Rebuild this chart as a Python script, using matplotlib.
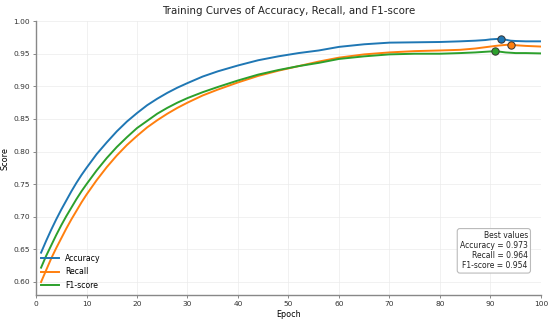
import numpy as np
import matplotlib
matplotlib.use("Agg")
import matplotlib.pyplot as plt

epochs = [1, 2, 3, 4, 5, 6, 7, 8, 9, 10, 12, 14, 16, 18, 20, 22, 24, 26, 28, 30,
          33, 36, 40, 44, 48, 52, 56, 60, 65, 70, 75, 80, 84, 87, 89, 90, 91, 92,
          93, 94, 95, 97, 100]

accuracy = [0.645, 0.663, 0.680, 0.696, 0.711, 0.725, 0.739, 0.752, 0.764, 0.775,
            0.796, 0.814, 0.831, 0.846, 0.859, 0.871, 0.881, 0.890, 0.898, 0.905,
            0.915, 0.923, 0.932, 0.940, 0.946, 0.951, 0.955, 0.9605, 0.9645, 0.967,
            0.9675, 0.968, 0.969, 0.970, 0.971, 0.972, 0.9725, 0.973, 0.9715, 0.970,
            0.9695, 0.969, 0.969]

recall = [0.600, 0.618, 0.636, 0.652, 0.667, 0.682, 0.696, 0.709, 0.722, 0.734,
          0.756, 0.776, 0.794, 0.810, 0.824, 0.837, 0.848, 0.858, 0.867, 0.875,
          0.886, 0.895, 0.906, 0.916, 0.924, 0.931, 0.938, 0.944, 0.949, 0.952,
          0.954, 0.955, 0.956, 0.958, 0.960, 0.961, 0.962, 0.9628, 0.9635, 0.964,
          0.963, 0.962, 0.961]

f1 = [0.622, 0.640, 0.656, 0.672, 0.687, 0.701, 0.714, 0.727, 0.739, 0.750,
      0.771, 0.790, 0.807, 0.822, 0.836, 0.847, 0.858, 0.867, 0.875, 0.882,
      0.891, 0.899, 0.909, 0.918, 0.925, 0.931, 0.936, 0.942, 0.946, 0.949,
      0.950, 0.950, 0.951, 0.952, 0.953, 0.9535, 0.954, 0.953, 0.952, 0.9515,
      0.951, 0.951, 0.9505]

best_epoch = {"Accuracy": 92, "Recall": 94, "F1-score": 91}
best_value = {"Accuracy": 0.973, "Recall": 0.964, "F1-score": 0.954}

series = [("Accuracy", accuracy, "#1f77b4"),
          ("Recall", recall, "#ff7f0e"),
          ("F1-score", f1, "#2ca02c")]

fig = plt.figure(figsize=(5.5, 3.2), dpi=100)
ax = fig.add_axes([0.0655, 0.078, 0.918, 0.856])

for name, vals, col in series:
    ax.plot(epochs, vals, color=col, lw=1.4, label=name)
    ax.scatter([best_epoch[name]], [best_value[name]], s=28, color=col,
               edgecolor="#333333", linewidth=0.7, zorder=5)

ax.set_xlim(0, 100)
ax.set_ylim(0.58, 1.00)
ax.set_xticks(np.arange(0, 101, 10))
ax.set_yticks(np.arange(0.60, 1.001, 0.05))
ax.set_yticklabels([f"{v:.2f}" for v in np.arange(0.60, 1.001, 0.05)])
ax.grid(True, color="#ebebeb", lw=0.5)
ax.set_axisbelow(True)
for s in ["top", "right"]:
    ax.spines[s].set_visible(False)
for s in ["left", "bottom"]:
    ax.spines[s].set_color("#888888")
    ax.spines[s].set_linewidth(1.0)
ax.tick_params(labelsize=5.4, colors="#333333", length=2.5, width=0.7, pad=2, color="#888888")

ax.set_title("Training Curves of Accuracy, Recall, and F1-score", fontsize=7.4, color="#222222", pad=5)
ax.set_xlabel("Epoch", fontsize=5.8, labelpad=2)
ax.set_ylabel("Score", fontsize=5.8, labelpad=2.5)

ax.legend(loc="lower left", frameon=False, fontsize=5.6, handlelength=2.2,
          borderaxespad=0.3, labelspacing=0.55, handletextpad=0.8)

txt = "Best values\nAccuracy = {:.3f}\nRecall = {:.3f}\nF1-score = {:.3f}".format(
    best_value["Accuracy"], best_value["Recall"], best_value["F1-score"])
ax.text(0.974, 0.09, txt, transform=ax.transAxes, ha="right", va="bottom",
        fontsize=5.5, linespacing=1.15, color="#222222",
        bbox=dict(boxstyle="round,pad=0.35", fc="white", ec="#bbbbbb", lw=0.8))

fig.savefig("out.png", dpi=100)
